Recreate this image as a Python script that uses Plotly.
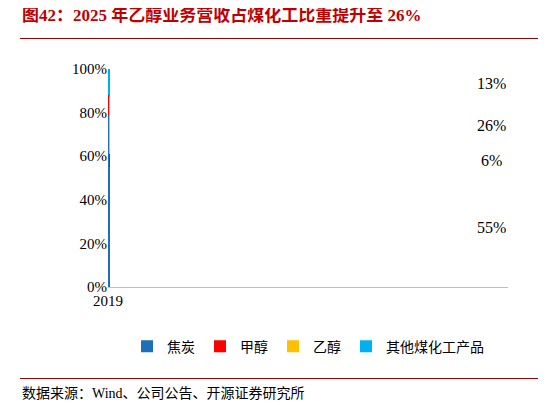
import plotly.graph_objects as go

years = ["2019", "2020", "2021", "2022", "2023", "2024", "2025"]
coke = [82, 85, 86, 83.5, 78.5, 66.5, 55]
methanol = [7.5, 7, 6, 6.5, 9.5, 4, 6]
ethanol = [0, 0, 0, 0, 0, 17.5, 26]
other = [10.5, 8, 8, 10, 12, 12, 13]
labels_2025 = ["55%", "6%", "26%", "13%"]
ytick_vals = [0, 20, 40, 60, 80, 100]
ytick_text = ["0%", "20%", "40%", "60%", "80%", "100%"]

font = "Liberation Serif, Noto Sans CJK SC"
fig = go.Figure()
for name, vals, col in [("焦炭", coke, "#1F6FB8"), ("甲醇", methanol, "#FF0000"),
                        ("乙醇", ethanol, "#FFC000"), ("其他煤化工产品", other, "#00B0F0")]:
    fig.add_bar(x=years, y=vals, name=name, marker_color=col, marker_line_width=0, width=0.42)

cum = 0
for v, t in zip([coke[-1], methanol[-1], ethanol[-1], other[-1]], labels_2025):
    fig.add_annotation(x="2025", y=cum + v / 2, text=t, showarrow=False,
                       font=dict(family=font, size=16, color="black"))
    cum += v

fig.update_layout(
    barmode="stack", width=546, height=405, plot_bgcolor="white", paper_bgcolor="white",
    margin=dict(l=100, r=46, t=61, b=126),
    font=dict(family=font, size=15, color="black"),
    yaxis=dict(range=[0, 100], tickmode="array", tickvals=ytick_vals, ticktext=ytick_text,
               showgrid=False, showline=False, ticks="", zeroline=False),
    xaxis=dict(type="category", showline=True, linecolor="#bfbfbf", ticks="",
               tickfont=dict(size=15)),
    legend=dict(orientation="h", x=0.5, xanchor="center", y=-0.2, yanchor="top",
                font=dict(size=14), traceorder="normal"),
    showlegend=True,
)
fig.add_annotation(xref="paper", yref="paper", x=-0.22, y=1.25, xanchor="left", yanchor="middle",
                   text="<b>图42：2025 年乙醇业务营收占煤化工比重提升至 26%</b>", showarrow=False,
                   font=dict(family=font, size=17, color="#C00000"))
fig.add_shape(type="line", xref="paper", yref="paper", x0=-0.22, x1=1.09, y0=1.14, y1=1.14,
              line=dict(color="#8B0000", width=1))
fig.add_shape(type="line", xref="paper", yref="paper", x0=-0.22, x1=1.09, y0=-0.42, y1=-0.42,
              line=dict(color="#8B0000", width=1))
fig.add_annotation(xref="paper", yref="paper", x=-0.22, y=-0.49, xanchor="left", yanchor="middle",
                   text="数据来源：Wind、公司公告、开源证券研究所", showarrow=False,
                   font=dict(family=font, size=14, color="black"))
fig.write_html("out.html")
